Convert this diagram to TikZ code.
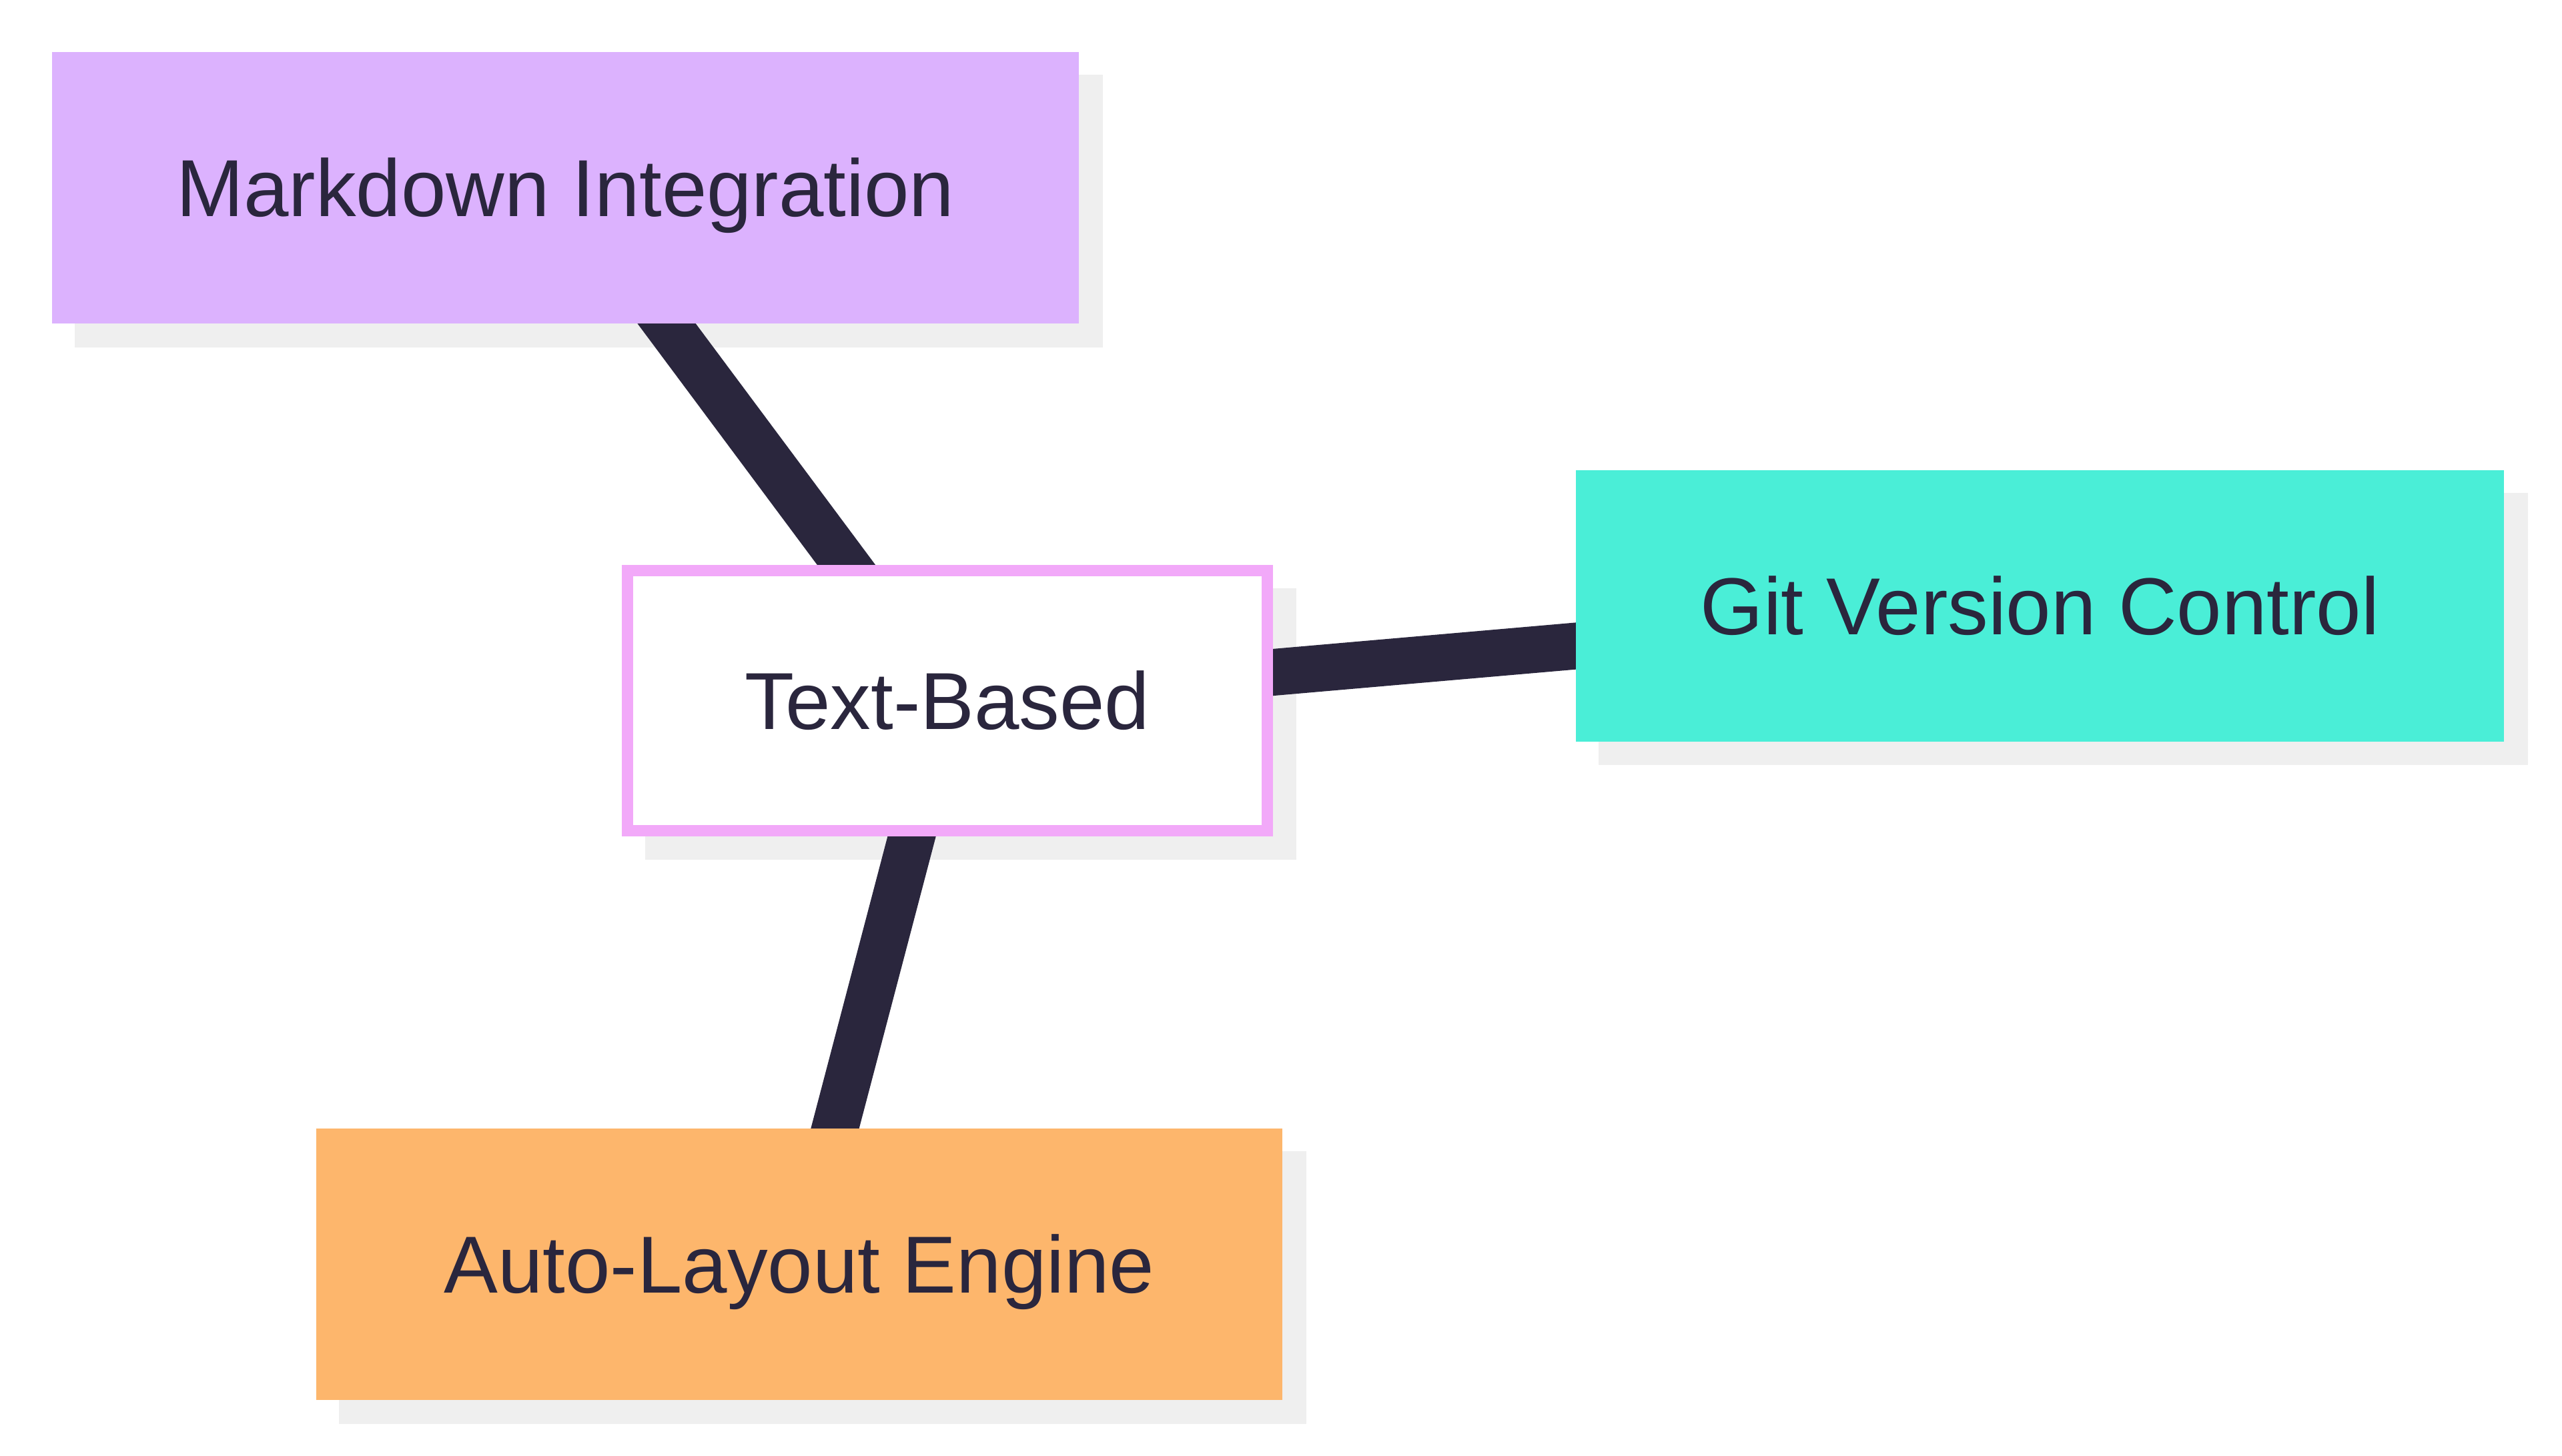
\documentclass[tikz,border=0pt]{standalone}
\usepackage{fontspec}
\setmainfont{Liberation Sans}
\usetikzlibrary{backgrounds}

\definecolor{inkdark}{HTML}{2A263D}
\definecolor{shadegray}{HTML}{EFEFEF}
\definecolor{hubpink}{HTML}{F2A9F9}
\definecolor{mdpurple}{HTML}{DCB2FE}
\definecolor{gitteal}{HTML}{4AEED7}
\definecolor{layorange}{HTML}{FDB66C}

\tikzset{
  topic/.style={rectangle, inner sep=0pt, minimum height=4.07cm, text=inkdark,
    font=\fontsize{34.5}{40}\selectfont, text height=24.7pt, text depth=0pt},
  hub/.style={topic, draw=hubpink, line width=0.17cm, fill=white,
    minimum width=9.59cm, minimum height=3.90cm},
  link/.style={draw=inkdark, line width=0.7cm},
  boxshade/.style={fill=shadegray},
}

\begin{document}
\begin{tikzpicture}
  \useasboundingbox (0,0) rectangle (38.4,-21.83);

  \node[hub] (txt) at (14.20,-10.505) {Text-Based};
  \node[topic, fill=mdpurple, minimum width=15.39cm] (md) at (8.475,-2.815) {Markdown Integration};
  \node[topic, fill=gitteal, minimum width=13.91cm] (git) at (30.575,-9.08) {Git Version Control};
  \node[topic, fill=layorange, minimum width=14.48cm] (auto) at (11.98,-18.955) {Auto-Layout Engine};

  \begin{pgfonlayer}{background}
    % shadows first, then the links over them
    \foreach \n in {md,txt,git,auto}
      \fill[boxshade] ([shift={(0.35,-0.35)}]\n.south west) rectangle ([shift={(0.35,-0.35)}]\n.north east);
    \draw[link] (txt.center) -- (md.center);
    \draw[link] (txt.center) -- (git.center);
    \draw[link] (txt.center) -- (auto.center);
  \end{pgfonlayer}
\end{tikzpicture}
\end{document}
